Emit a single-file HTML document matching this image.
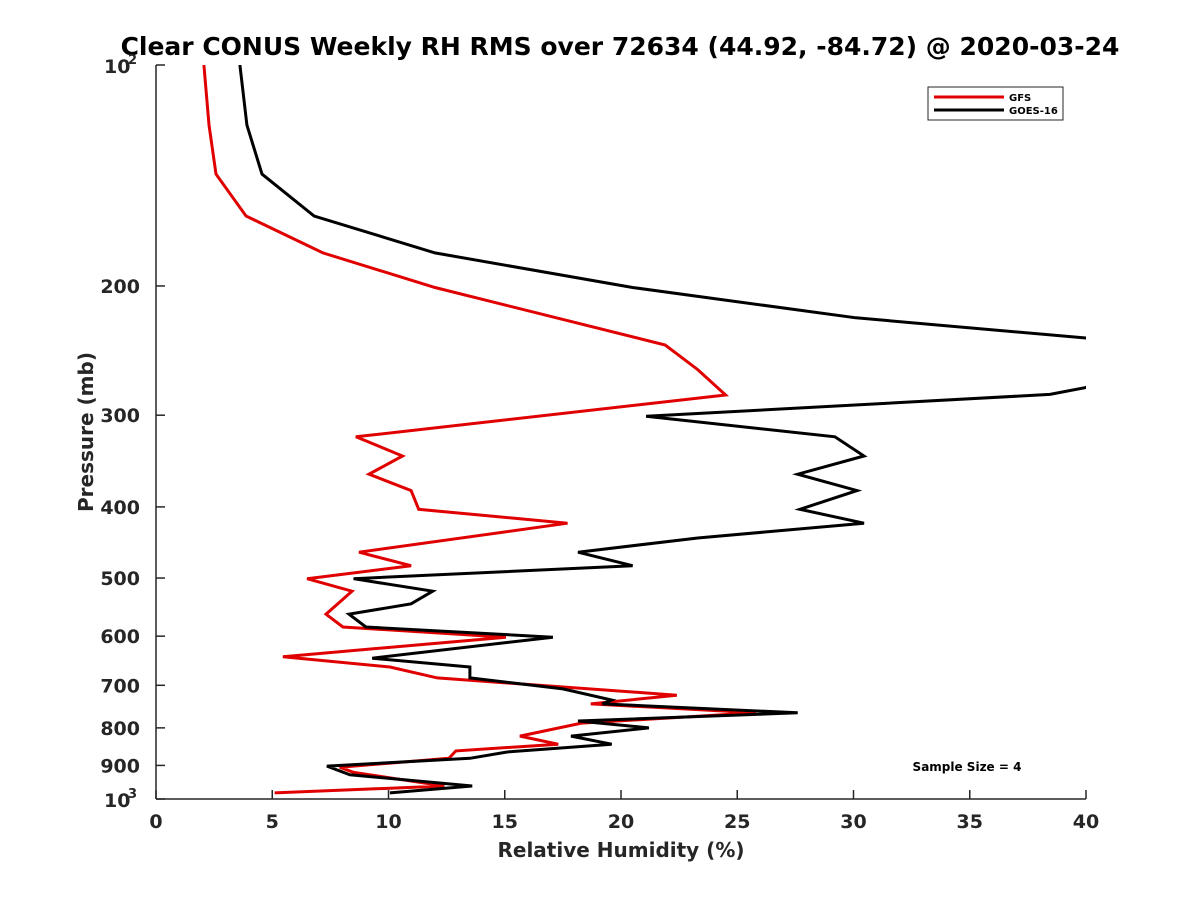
<!DOCTYPE html>
<html><head><meta charset="utf-8"><style>
html,body{margin:0;padding:0;background:#fff;}
svg{display:block;font-family:"DejaVu Sans","Liberation Sans",sans-serif;font-weight:bold;}
</style></head><body>
<svg id="chart" width="1200" height="900" viewBox="0 0 1200 900">
<defs><clipPath id="clip"><rect x="156" y="65" width="930" height="734"/></clipPath></defs>
<text x="620" y="55" text-anchor="middle" font-size="25" fill="#000">Clear CONUS Weekly RH RMS over 72634 (44.92, -84.72) @ 2020-03-24</text>
<g id="axes"></g>
<g id="series" clip-path="url(#clip)"></g>
<text x="621" y="857" text-anchor="middle" font-size="20" fill="#262626">Relative Humidity (%)</text>
<text transform="translate(93,432) rotate(-90)" text-anchor="middle" font-size="20" fill="#262626">Pressure (mb)</text>
<text x="967" y="771" text-anchor="middle" font-size="12" fill="#000">Sample Size = 4</text>
<g>
<rect x="928" y="87" width="135" height="33" fill="#fff" stroke="#262626" stroke-width="1"/>
<line x1="934" y1="97" x2="1004" y2="97" stroke="#e00000" stroke-width="3"/>
<text x="1009" y="101" font-size="10" fill="#000">GFS</text>
<line x1="934" y1="110" x2="1004" y2="110" stroke="#000" stroke-width="3"/>
<text x="1009" y="114" font-size="10" fill="#000">GOES-16</text>
</g>
</svg>
<script>
const xTicks = [0,5,10,15,20,25,30,35,40];
const yTicks = [100,200,300,400,500,600,700,800,900,1000];
const yTickLabels = ["","200","300","400","500","600","700","800","900",""];
const gfsRH = [2.06,2.28,2.58,3.87,7.18,12.0,21.9,23.3,24.5,8.6,10.6,9.16,10.97,11.3,17.7,8.73,10.97,6.5,8.43,7.31,8.04,15.05,5.46,10.06,12.1,22.4,18.7,25.8,18.3,15.65,17.3,12.9,12.6,7.9,8.5,12.4,5.1];
const gfsP = [100,120.7,140.8,160.6,180.3,201,240.7,260,281.6,321,341,361,380,403,421,461,481,501,521,560,583,602,640,661,684,722,742,763,788,821,842,860,880,905,920,960,981];
const goesRH = [3.61,3.91,4.56,6.8,12.0,20.5,30.1,40,60,60,40,38.45,21.08,29.2,30.45,27.6,30.15,27.7,30.45,23.3,18.15,20.5,8.5,11.9,10.97,8.3,9.03,17.07,9.3,13.5,13.5,17.5,19.6,19.2,27.6,18.15,21.2,17.85,19.6,15.1,13.5,7.35,8.34,13.6,10.06];
const goesP = [100,120.7,140.8,160.6,180.3,201,221,235.5,250,265,275,281,301,321,341,361,380,403,421,441,461,481,501,521,542,560,583,602,643,661,684,708,733,742,763,783,800,821,842,863,880,902,927,960,981];

const X0=156,X1=1086,Y0=65,Y1=799;
const xs = v => X0 + (v-0)/(40-0)*(X1-X0);
const ys = p => Y0 + (Math.log10(p)-2)*(Y1-Y0);
const NS="http://www.w3.org/2000/svg";
function mk(tag, attrs, parent){const e=document.createElementNS(NS,tag);for(const k in attrs)e.setAttribute(k,attrs[k]);parent.appendChild(e);return e;}
const axes=document.getElementById('axes');
const ax=mk('line',{x1:X0,y1:Y1,x2:X1,y2:Y1,stroke:'#262626','stroke-width':1.5},axes);


const ay=mk('line',{x1:X0,y1:Y0,x2:X0,y2:Y1,stroke:'#262626','stroke-width':1.5},axes);


xTicks.forEach(t=>{
  const x=xs(t);
  const tk=mk('line',{x1:x,y1:Y1,x2:x,y2:Y1-9,stroke:'#262626','stroke-width':1.5},axes);
  
  
  const tl=mk('text',{x:x,y:828,'text-anchor':'middle','font-size':19,fill:'#262626'},axes);
  tl.textContent=String(t);
  
  
});
yTicks.forEach((t,i)=>{
  const y=ys(t);
  const tk=mk('line',{x1:X0,y1:y,x2:X0+9,y2:y,stroke:'#262626','stroke-width':1.5},axes);
  
  
  if(yTickLabels[i]){
    const tl=mk('text',{x:140,y:y+7,'text-anchor':'end','font-size':19,fill:'#262626'},axes);
    tl.textContent=yTickLabels[i];
    
    
  }
});
[[100,'2'],[1000,'3']].forEach(([p,e])=>{
  const y=ys(p);
  const tl=mk('text',{x:104,y:y+8,'font-size':19,fill:'#262626'},axes);
  tl.textContent='10';
  
  
  const sp=mk('text',{x:128,y:y-1,'font-size':13,fill:'#262626'},axes);
  sp.textContent=e;
  
  
});
const series=document.getElementById('series');
function line(rh,p,color,name){
  const pts=rh.map((v,i)=>xs(v).toFixed(1)+','+ys(p[i]).toFixed(1)).join(' ');
  const pl=mk('polyline',{points:pts,fill:'none',stroke:color,'stroke-width':3,'stroke-linejoin':'miter'},series);
  
  
}
line(gfsRH,gfsP,'#e00000','gfs-line');
line(goesRH,goesP,'#000000','goes16-line');
</script>
</body></html>
